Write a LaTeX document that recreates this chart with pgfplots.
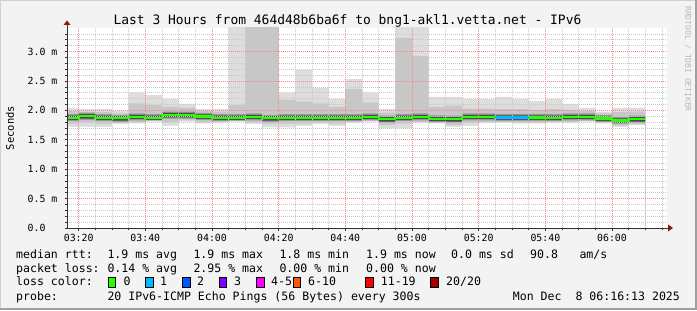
\documentclass[border=0pt]{standalone}
\usepackage{pgfplots}
\pgfplotsset{compat=1.18}
\usepackage{pgfplotstable}
\usepackage{fontspec}
\setmainfont{DejaVu Sans Mono}
\setmonofont{DejaVu Sans Mono}

\definecolor{canvas}{RGB}{243,243,243}
\definecolor{smokeA}{RGB}{221,221,221}
\definecolor{smokeB}{RGB}{199,199,199}
\definecolor{smokeC}{RGB}{150,150,150}
\definecolor{smokeD}{RGB}{75,75,75}
\definecolor{gridminor}{RGB}{200,200,200}
\definecolor{gridmajor}{RGB}{238,140,140}
\definecolor{arrowred}{RGB}{140,20,20}
\definecolor{loss0}{HTML}{26FF00}
\definecolor{loss1}{HTML}{00B8FF}
\definecolor{loss2}{HTML}{0059FF}
\definecolor{loss3}{HTML}{7E00FF}
\definecolor{loss4}{HTML}{FF00FF}
\definecolor{loss6}{HTML}{FF5500}
\definecolor{loss11}{HTML}{FF0000}
\definecolor{loss20}{HTML}{A00000}

% x = minutes after 03:00 (start of each 5-minute step)
\pgfplotstableread{
x   max  hitwo hithree hifour med   lofour lothree lotwo min
15  2.04 1.99  1.935   1.910  1.875 1.835  1.815   1.775 1.72
20  2.02 1.98  1.960   1.935  1.900 1.860  1.840   1.800 1.72
25  2.02 1.97  1.935   1.910  1.875 1.835  1.815   1.775 1.72
30  1.99 1.95  1.925   1.900  1.865 1.825  1.805   1.785 1.77
35  2.30 2.12  1.950   1.925  1.890 1.850  1.830   1.800 1.78
40  2.26 2.09  1.935   1.910  1.875 1.840  1.830   1.820 1.81
45  2.19 2.06  1.980   1.955  1.920 1.880  1.860   1.800 1.735
50  2.11 2.04  1.980   1.955  1.920 1.880  1.860   1.830 1.81
55  2.02 1.99  1.955   1.930  1.895 1.855  1.835   1.800 1.78
60  2.02 1.98  1.935   1.910  1.875 1.835  1.815   1.800 1.79
65  3.60 2.09  1.935   1.910  1.875 1.835  1.825   1.815 1.81
70  3.60 3.60  1.950   1.925  1.890 1.850  1.830   1.795 1.77
75  3.60 3.60  1.925   1.900  1.865 1.825  1.805   1.765 1.71
80  2.30 2.18  1.935   1.910  1.875 1.835  1.815   1.775 1.71
85  2.69 2.15  1.935   1.910  1.875 1.835  1.815   1.775 1.735
90  2.38 2.12  1.935   1.910  1.875 1.835  1.815   1.790 1.77
95  2.19 2.06  1.935   1.910  1.875 1.835  1.815   1.775 1.735
100 2.53 2.36  1.935   1.910  1.875 1.835  1.815   1.800 1.79
105 2.30 2.13  1.950   1.925  1.890 1.850  1.830   1.820 1.81
110 2.02 1.96  1.910   1.885  1.850 1.810  1.790   1.750 1.695
115 3.60 3.23  1.935   1.910  1.875 1.835  1.815   1.775 1.695
120 3.60 2.92  1.950   1.925  1.890 1.850  1.830   1.800 1.79
125 2.23 2.06  1.915   1.890  1.855 1.815  1.795   1.785 1.78
130 2.23 2.08  1.910   1.885  1.850 1.810  1.790   1.750 1.72
135 2.19 2.03  1.950   1.925  1.890 1.850  1.830   1.790 1.735
140 2.19 2.03  1.950   1.925  1.890 1.850  1.830   1.800 1.79
145 2.23 2.02  1.940   1.915  1.880 1.840  1.820   1.800 1.79
150 2.19 2.02  1.940   1.915  1.880 1.840  1.820   1.790 1.78
155 2.16 2.01  1.940   1.915  1.880 1.840  1.820   1.790 1.78
160 2.19 2.02  1.935   1.910  1.875 1.835  1.815   1.800 1.79
165 2.11 2.01  1.950   1.925  1.890 1.850  1.830   1.800 1.79
170 2.04 1.99  1.950   1.925  1.890 1.850  1.830   1.820 1.81
175 1.98 1.95  1.920   1.895  1.860 1.820  1.800   1.790 1.78
180 2.04 1.97  1.890   1.865  1.830 1.790  1.770   1.740 1.72
185 2.04 1.98  1.910   1.885  1.850 1.810  1.790   1.765 1.75
190 2.04 1.98  1.910   1.885  1.850 1.810  1.790   1.765 1.75
}\smoke

\pgfplotstableread{
x   med
145 1.88
150 1.88
155 1.88
}\lossone

\begin{document}
\begin{tikzpicture}[x=1bp,y=1bp]
\useasboundingbox (0,0) rectangle (697,310);
\fill[canvas] (0,0) rectangle (697,310);
\draw[line width=1bp, color={rgb,255:red,208;green,208;blue,208}] (0.5,0) -- (0.5,309.5) -- (697,309.5);
\draw[line width=2bp, color={rgb,255:red,160;green,160;blue,160}] (0,1) -- (696,1) -- (696,310);

\begin{axis}[
  at={(67bp,82bp)}, anchor=south west,
  scale only axis, width=600bp, height=200bp,
  xmin=16.5, xmax=196.5, ymin=0, ymax=3.4,
  axis background/.style={fill=white},
  axis on top,
  axis line style={draw=none},
  tick pos=left, tick align=outside,
  major tick length=2.5bp, minor tick length=2bp,
  tick style={black!80, line width=0.6bp},
  xtick={20,40,...,180},
  xticklabels={03:20,03:40,04:00,04:20,04:40,05:00,05:20,05:40,06:00},
  minor xtick={20,25,...,195},
  ytick={0,0.5,1.0,1.5,2.0,2.5,3.0},
  yticklabels={0.0,0.5 m,1.0 m,1.5 m,2.0 m,2.5 m,3.0 m},
  minor ytick={0.1,0.2,0.3,0.4,0.6,0.7,0.8,0.9,1.1,1.2,1.3,1.4,1.6,1.7,1.8,1.9,2.1,2.2,2.3,2.4,2.6,2.7,2.8,2.9,3.1,3.2,3.3},
  grid=both,
  minor grid style={gridminor, line width=0.6bp, dash pattern=on 1bp off 1bp},
  major grid style={gridmajor, line width=0.6bp, dash pattern=on 1bp off 1bp},
  ticklabel style={font=\fontsize{9.9}{11}\selectfont, inner sep=0pt},
  xticklabel style={anchor=north, yshift=-3bp},
  yticklabel style={anchor=west, xshift=-37bp},
]
\addplot[draw=none, fill=smokeA, const plot] table[x=x, y=max] {\smoke} \closedcycle;
\addplot[draw=none, fill=smokeB, const plot] table[x=x, y=hitwo] {\smoke} \closedcycle;
\addplot[draw=none, fill=smokeC, const plot] table[x=x, y=hithree] {\smoke} \closedcycle;
\addplot[draw=none, fill=smokeD, const plot] table[x=x, y=hifour] {\smoke} \closedcycle;
\addplot[draw=none, fill=smokeC, const plot] table[x=x, y=lofour] {\smoke} \closedcycle;
\addplot[draw=none, fill=smokeB, const plot] table[x=x, y=lothree] {\smoke} \closedcycle;
\addplot[draw=none, fill=smokeA, const plot] table[x=x, y=lotwo] {\smoke} \closedcycle;
\addplot[draw=none, fill=white, const plot] table[x=x, y=min] {\smoke} \closedcycle;
\end{axis}

% median lines on top of the grid
\begin{axis}[
  at={(67bp,82bp)}, anchor=south west,
  scale only axis, width=600bp, height=200bp,
  xmin=16.5, xmax=196.5, ymin=0, ymax=3.4,
  hide axis,
]
\addplot[loss0, line width=2.3bp, const plot] table[x=x, y=med] {\smoke};
\addplot[loss1, line width=2.3bp, const plot] table[x=x, y=med] {\lossone};
\end{axis}

% axis lines with arrows
\draw[line width=1bp, color=black!80] (67,82) -- (67,285);
\fill[arrowred] (63.5,285) -- (70.5,285) -- (67,289.5) -- cycle;
\draw[line width=1bp, color=black!80] (67,82) -- (668,82);
\fill[arrowred] (668,78.5) -- (668,85.5) -- (673,82) -- cycle;

% title and labels
\node[anchor=base, inner sep=0pt, font=\fontsize{13}{15}\selectfont] at (347.5,286) {Last 3 Hours from 464d48b6ba6f to bng1-akl1.vetta.net - IPv6};
\node[rotate=90, inner sep=0pt, font=\fontsize{10.5}{12}\selectfont] at (10,182) {Seconds};
\node[rotate=-90, inner sep=0pt, text={rgb,255:red,185;green,185;blue,185}, font=\fontsize{8}{9}\selectfont] at (688,251) {RRDTOOL / TOBI OETIKER};

% legend
\begin{scope}[every node/.style={anchor=base west, inner sep=0pt, font=\fontsize{11.6}{13}\selectfont}]
\node at (16,52) {median rtt:};
\node at (107.3,52) {1.9 ms avg};
\node at (193.3,52) {1.9 ms max};
\node at (279.3,52) {1.8 ms min};
\node at (366,52) {1.9 ms now};
\node at (451,52) {0.0 ms sd};
\node at (530,52) {90.8};
\node at (579.3,52) {am/s};
\node at (16,38) {packet loss:};
\node at (107.3,38) {0.14 \% avg};
\node at (193.3,38) {2.95 \% max};
\node at (279.3,38) {0.00 \% min};
\node at (366,38) {0.00 \% now};
\node at (16,24.7) {loss color:};
\node at (123.3,24.7) {0};
\node at (160,24.7) {1};
\node at (197,24.7) {2};
\node at (234,24.7) {3};
\node at (271,24.7) {4-5};
\node at (308,24.7) {6-10};
\node at (380.7,24.7) {11-19};
\node at (446,24.7) {20/20};
\node at (16,9.7) {probe:};
\node at (107.3,9.7) {20 IPv6-ICMP Echo Pings (56 Bytes) every 300s};
\node at (512.7,9.7) {Mon Dec\ \ 8 06:16:13 2025};
\end{scope}
\foreach \bx/\bc in {108.3/loss0,145.7/loss1,182.7/loss2,219.3/loss3,256.7/loss4,293.3/loss6,365.7/loss11,430.7/loss20}{
  \filldraw[fill=\bc, draw=black, line width=0.8bp] (\bx,23) rectangle ++(7.5,9.5);
}
\end{tikzpicture}
\end{document}
